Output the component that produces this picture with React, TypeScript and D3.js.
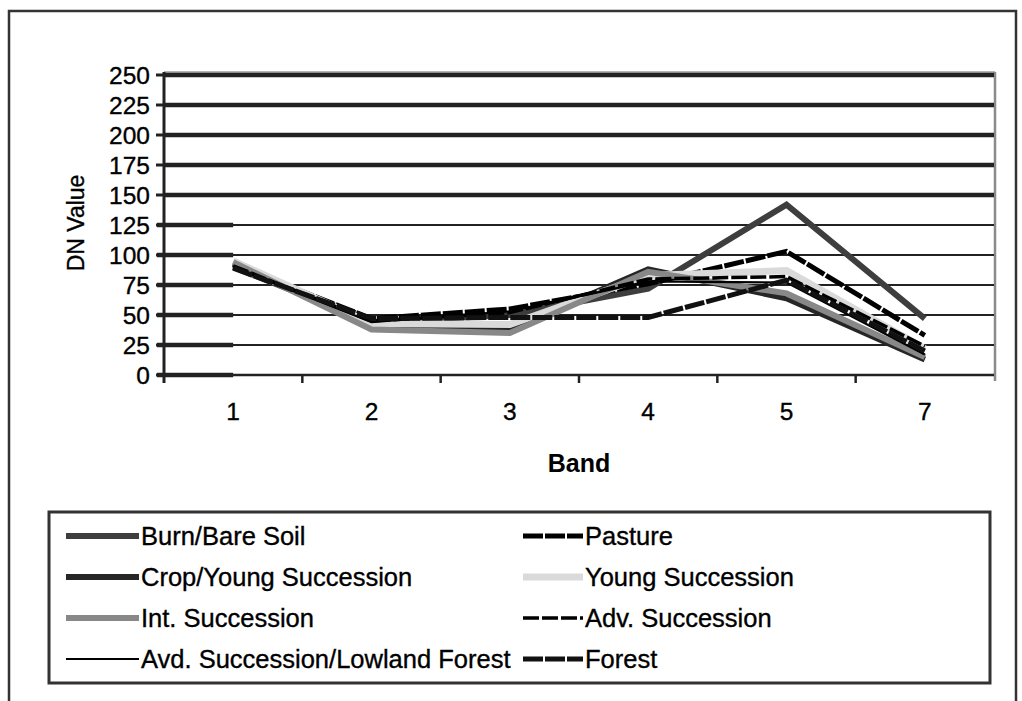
import React from "react";
import * as d3 from "d3";

// Landsat TM bands on the x axis
const bands = ["1", "2", "3", "4", "5", "7"];
const yTicks = [0, 25, 50, 75, 100, 125, 150, 175, 200, 225, 250];

// Mean DN value per band for each land-cover class
const burnBareSoil = [90, 44, 50, 72, 142, 47];
const pasture = [92, 47, 55, 76, 103, 33];
const cropYoungSuccession = [93, 41, 38, 88, 64, 13];
const youngSuccession = [95, 43, 42, 83, 87, 22];
const intSuccession = [94, 38, 35, 86, 68, 15];
const advSuccession = [91, 45, 52, 80, 82, 24];
const avdSuccessionLowland = [90, 44, 53, 78, 77, 17];
const forest = [89, 47, 48, 48, 79, 20];

const seriesNames = [
  "Burn/Bare Soil",
  "Pasture",
  "Crop/Young Succession",
  "Young Succession",
  "Int. Succession",
  "Adv. Succession",
  "Avd. Succession/Lowland Forest",
  "Forest",
];
const seriesValues = [
  burnBareSoil,
  pasture,
  cropYoungSuccession,
  youngSuccession,
  intSuccession,
  advSuccession,
  avdSuccessionLowland,
  forest,
];

type LineStyle = { color: string; width: number; dash?: string };
const seriesStyles: LineStyle[] = [
  { color: "#3e3e3e", width: 6 },
  { color: "#000", width: 5, dash: "20 2" },
  { color: "#262626", width: 6 },
  { color: "#dadada", width: 7 },
  { color: "#888", width: 6 },
  { color: "#000", width: 3.5, dash: "16 3" },
  { color: "#000", width: 2.2 },
  { color: "#111", width: 5, dash: "20 2" },
];

const FONT = "'Liberation Sans', Arial, sans-serif";

export default function App() {
  const left = 164;
  const right = 994;
  const top = 75;
  const bottom = 375;

  const x = d3.scaleBand<string>().domain(bands).range([left, right]).padding(0);
  const y = d3.scaleLinear().domain([0, 250]).range([bottom, top]);
  const cx = (b: string) => (x(b) as number) + x.bandwidth() / 2;

  const line = d3
    .line<number>()
    .x((_, i) => cx(bands[i]))
    .y((v) => y(v));

  const firstX = cx(bands[0]);

  // legend layout
  const legendRows = [536, 577, 618, 659];
  const legendCols = [
    { x0: 66, x1: 139, tx: 141 },
    { x0: 523, x1: 583, tx: 585 },
  ];

  const textInk = { fill: "#000", stroke: "#000", strokeWidth: 0.35 };

  return (
    <svg
      width={1022}
      height={701}
      style={{ position: "absolute", left: 0, top: 0, background: "#fff" }}
      fontFamily={FONT}
    >
      {/* outer frame */}
      <rect x={9} y={11} width={1007} height={720} fill="none" stroke="#333" strokeWidth={2.5} />

      {/* plot area border */}
      <line x1={left} x2={right + 1} y1={top - 3} y2={top - 3} stroke="#9a9a9a" strokeWidth={1.5} />
      <line x1={right + 1} x2={right + 1} y1={top - 3} y2={bottom + 6} stroke="#8a8a8a" strokeWidth={2.5} />

      {/* gridlines */}
      {yTicks.map((t) => {
        const yy = y(t);
        const heavy = t >= 150;
        return (
          <g key={t}>
            <line x1={left} x2={right} y1={yy} y2={yy} stroke="#222" strokeWidth={heavy ? 4.5 : 2} />
            {!heavy && (
              <line x1={left - 7} x2={firstX} y1={yy} y2={yy} stroke="#222" strokeWidth={4.5} />
            )}
            <line x1={left - 8} x2={left} y1={yy} y2={yy} stroke="#222" strokeWidth={3} />
            <text x={left - 14} y={yy} dy="0.36em" textAnchor="end" fontSize={24.5} {...textInk}>
              {t}
            </text>
          </g>
        );
      })}

      {/* axes */}
      <line x1={left} x2={left} y1={top - 3} y2={bottom + 8} stroke="#222" strokeWidth={3} />
      <line x1={left} x2={right} y1={bottom} y2={bottom} stroke="#222" strokeWidth={2.5} />
      {bands.slice(1).map((b) => (
        <line key={b} x1={x(b)} x2={x(b)} y1={bottom} y2={bottom + 8} stroke="#222" strokeWidth={2.5} />
      ))}
      {bands.map((b) => (
        <text key={b} x={cx(b)} y={bottom + 45} textAnchor="middle" fontSize={24.5} {...textInk}>
          {b}
        </text>
      ))}
      <text x={(left + right) / 2} y={472} textAnchor="middle" fontSize={25} fontWeight={700} fill="#000">
        Band
      </text>
      <text
        transform={`translate(84, ${(top + bottom) / 2 - 2}) rotate(-90)`}
        textAnchor="middle"
        fontSize={23}
        {...textInk}
      >
        DN Value
      </text>

      {/* series */}
      {seriesValues.map((vals, i) => {
        const s = seriesStyles[i];
        return (
          <path
            key={seriesNames[i]}
            d={line(vals) as string}
            fill="none"
            stroke={s.color}
            strokeWidth={s.width}
            strokeDasharray={s.dash}
            strokeLinejoin="miter"
          />
        );
      })}

      {/* legend */}
      <rect x={49} y={512} width={941} height={171} fill="#fff" stroke="#333" strokeWidth={3} />
      {seriesNames.map((name, i) => {
        const col = legendCols[i % 2];
        const ry = legendRows[Math.floor(i / 2)];
        const s = seriesStyles[i];
        return (
          <g key={name}>
            <line
              x1={col.x0}
              x2={col.x1}
              y1={ry}
              y2={ry}
              stroke={s.color}
              strokeWidth={s.width}
              strokeDasharray={s.dash}
            />
            <text x={col.tx} y={ry} dy="0.36em" fontSize={25.5} {...textInk}>
              {name}
            </text>
          </g>
        );
      })}
    </svg>
  );
}
